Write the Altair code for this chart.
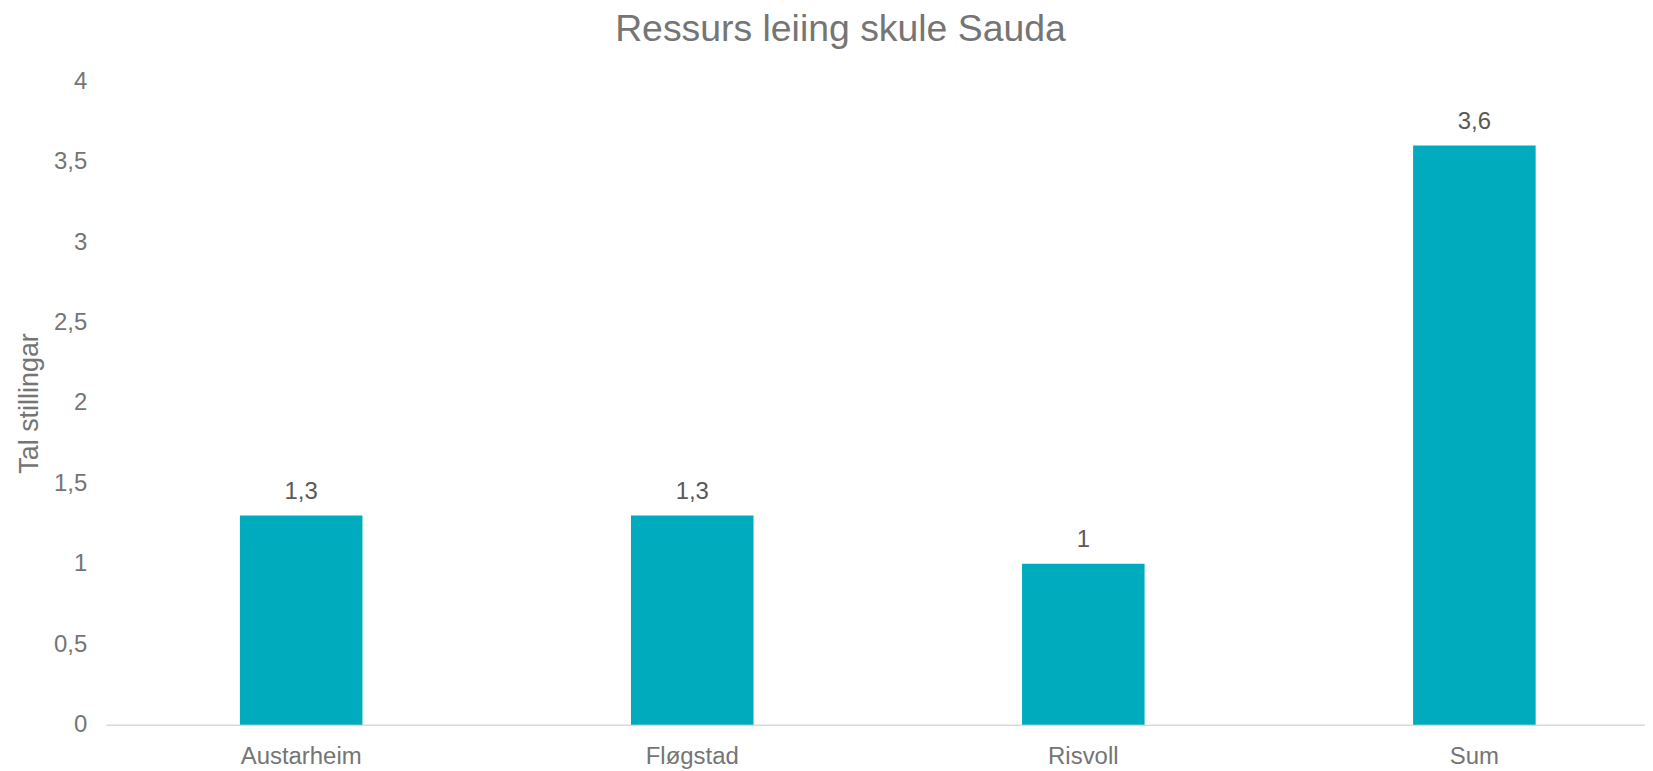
import altair as alt
import pandas as pd

categories = ["Austarheim", "Fløgstad", "Risvoll", "Sum"]
values = [1.3, 1.3, 1.0, 3.6]
y_ticks = [0, 0.5, 1, 1.5, 2, 2.5, 3, 3.5, 4]

df = pd.DataFrame({"skule": categories, "stillingar": values})

GRAY = "#757575"
DARK = "#595959"
BAR = "#00ABBE"
FONT = "Liberation Sans"

x = alt.X(
    "skule:N",
    sort=categories,
    scale=alt.Scale(range=[0, 1570], paddingInner=0, paddingOuter=0),
    axis=alt.Axis(
        title=None, labelAngle=0, ticks=False, tickSize=0, labelPadding=20,
        labelFontSize=24, labelColor=GRAY, labelFont=FONT,
        domainColor="#D9D9D9", domainWidth=1.5, grid=False,
    ),
)
y = alt.Y(
    "stillingar:Q",
    scale=alt.Scale(domain=[0, 4], nice=False),
    axis=alt.Axis(
        title="Tal stillingar", values=y_ticks,
        labelExpr="replace(toString(datum.value), '.', ',')",
        domain=False, ticks=False, tickSize=0, grid=False, labelPadding=19,
        labelFontSize=24, labelColor=GRAY, labelFont=FONT,
        titleFontSize=27, titleColor=GRAY, titleFont=FONT, titleFontWeight="normal",
        titleAngle=-90, titleX=-68, titleY=323, titleBaseline="alphabetic", titleAlign="center",
    ),
)

bars = alt.Chart(df).mark_bar(color=BAR, size=123).encode(x=x, y=y)
labels = alt.Chart(df).transform_calculate(
    lbl="replace(toString(datum.stillingar), '.', ',')"
).mark_text(
    baseline="alphabetic", dy=-16.5, fontSize=24, color=DARK, font=FONT
).encode(x=x, y=y, text="lbl:N")

chart = (bars + labels).properties(
    width=1545, height=646,
    title=alt.TitleParams(
        "Ressurs leiing skule Sauda", fontSize=37.5, color=GRAY, font=FONT,
        fontWeight="normal", anchor="middle", dx=-35, offset=21,
    ),
    autosize=alt.AutoSizeParams(type="none"),
    padding={"left": 98, "top": 72, "right": 0, "bottom": 45},
).configure_view(stroke=None)

chart.save("out.html", embed_options={"renderer": "svg", "actions": False})
